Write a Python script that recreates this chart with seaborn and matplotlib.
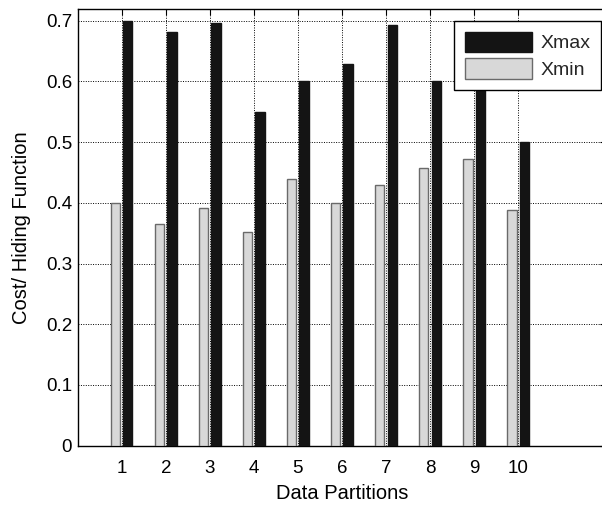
import matplotlib
matplotlib.use("Agg")
import matplotlib.pyplot as plt
import seaborn as sns
import pandas as pd

partitions = [1, 2, 3, 4, 5, 6, 7, 8, 9, 10]
xmax_vals = [0.700, 0.682, 0.696, 0.550, 0.600, 0.628, 0.693, 0.600, 0.610, 0.500]
xmin_vals = [0.400, 0.365, 0.392, 0.352, 0.440, 0.400, 0.430, 0.458, 0.472, 0.389]
series_names = ["Xmin", "Xmax"]
yticks = [0, 0.1, 0.2, 0.3, 0.4, 0.5, 0.6, 0.7]

df = pd.DataFrame({
    "partition": partitions * 2,
    "value": xmin_vals + xmax_vals,
    "series": ["Xmin"] * len(partitions) + ["Xmax"] * len(partitions),
})

sns.set_theme(style="white")
plt.rcParams["font.family"] = ["Liberation Sans", "DejaVu Sans"]

fig = plt.figure(figsize=(6.02, 5.05), dpi=100)
ax = fig.add_axes([0.129, 0.1174, 0.878, 0.8642])

sns.barplot(data=df, x="partition", y="value", hue="series", hue_order=series_names,
            native_scale=True, width=0.56, gap=0.25,
            palette={"Xmin": "#d8d8d8", "Xmax": "#141414"}, ax=ax, errorbar=None,
            zorder=3)

edge = {"Xmin": "#6a6a6a", "Xmax": "#141414"}
for cont, name in zip(ax.containers, series_names):
    for p in cont:
        p.set_edgecolor(edge[name])
        p.set_linewidth(1.0)

ax.set_xlim(0, 12)
ax.set_ylim(0, 0.7188)
ax.set_xticks(partitions)
ax.set_xticklabels([str(p) for p in partitions])
ax.set_yticks(yticks)
ax.set_yticklabels(["0"] + [f"{v:.1f}" for v in yticks[1:]])
ax.grid(True, linestyle=(0, (1, 1.5)), color="black", linewidth=0.7, zorder=0)
ax.set_axisbelow(True)
for s in ax.spines.values():
    s.set_color("black")
    s.set_linewidth(1.0)
ax.tick_params(direction="in", length=4, width=0.8, color="black",
               labelsize=13.5, top=True, right=True, labelcolor="black")
ax.tick_params(axis="y", pad=4)
ax.tick_params(axis="x", pad=10)
ax.set_xlabel("Data Partitions", fontsize=14.5, color="black", labelpad=5.5)
ax.set_ylabel("Cost/ Hiding Function", fontsize=14.5, color="black", labelpad=11)

handles, labels = ax.get_legend_handles_labels()
order = [labels.index("Xmax"), labels.index("Xmin")]
leg = ax.legend([handles[i] for i in order], [labels[i] for i in order],
                loc="upper right", bbox_to_anchor=(0.990, 0.9732),
                fontsize=14, handlelength=3.45, handleheight=1.23,
                frameon=True, fancybox=False, framealpha=1, edgecolor="black",
                borderpad=0.55, labelspacing=0.3, handletextpad=0.41, borderaxespad=0)
leg.get_frame().set_linewidth(1.0)
for h, name in zip(leg.legend_handles, ["Xmax", "Xmin"]):
    h.set_edgecolor(edge[name])

fig.savefig("out.png", dpi=100)
